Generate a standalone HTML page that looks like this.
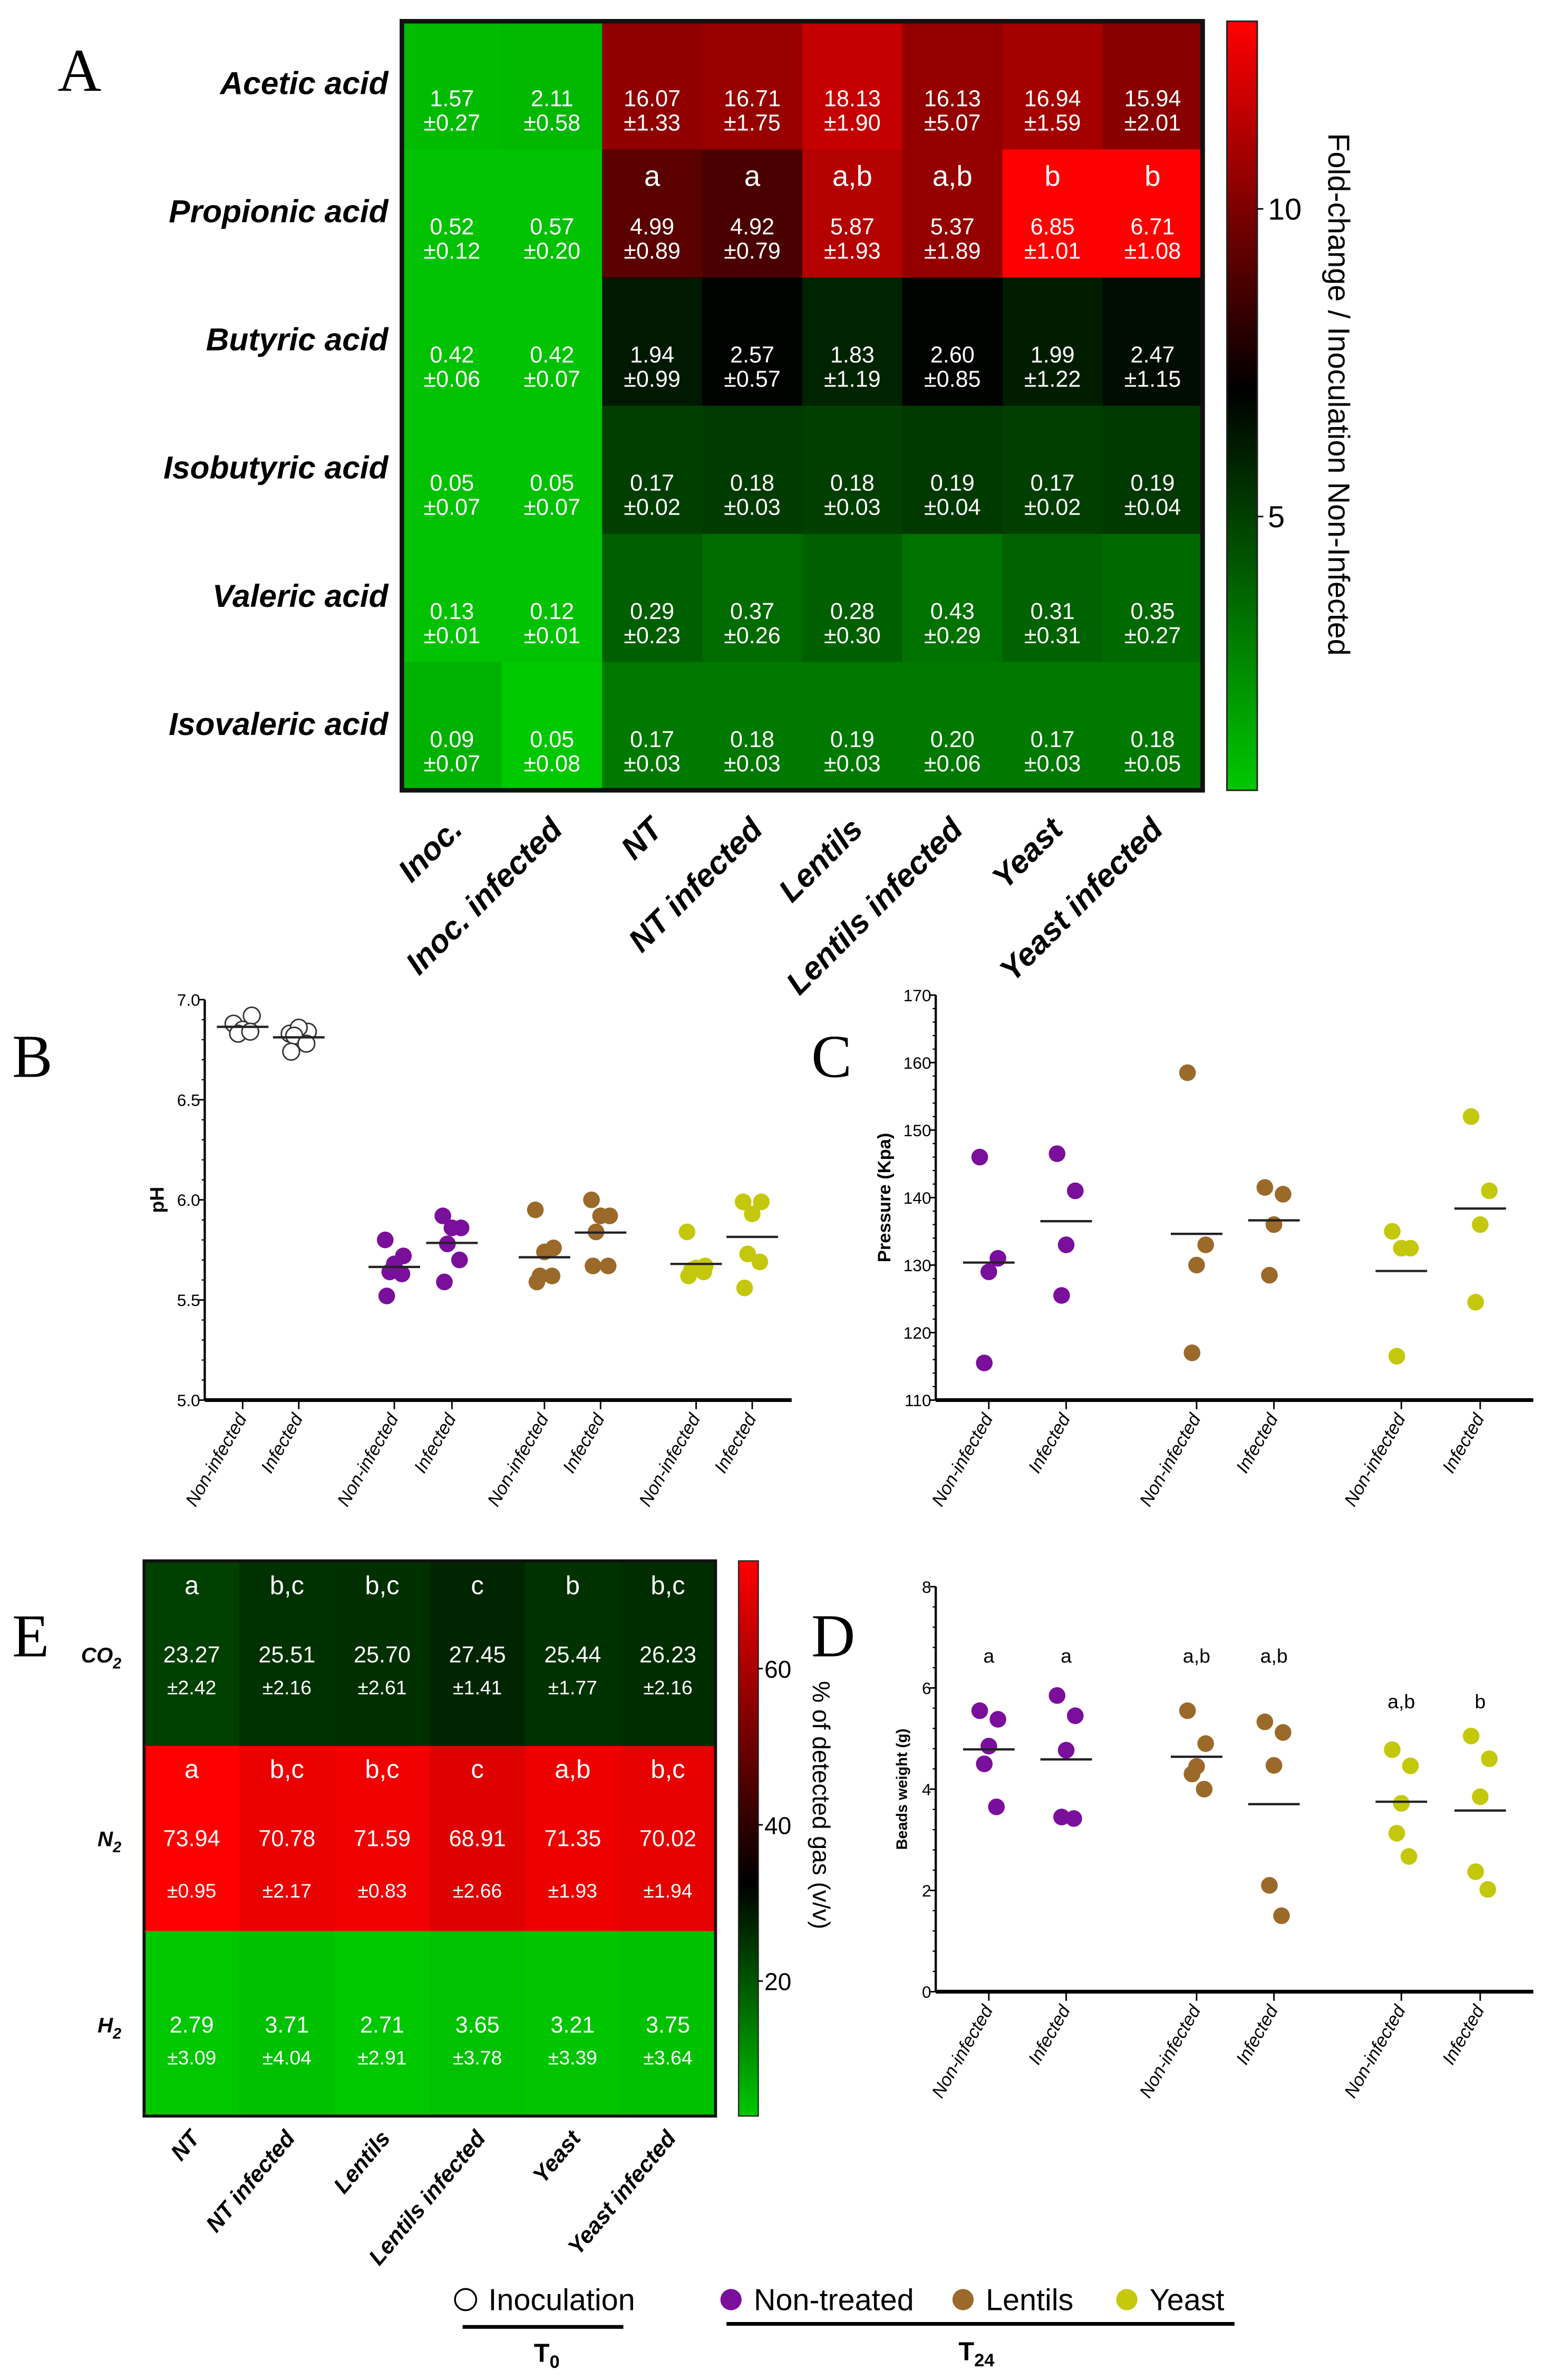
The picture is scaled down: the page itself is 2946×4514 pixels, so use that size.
<!DOCTYPE html>
<html><head><meta charset="utf-8">
<style>
html,body{margin:0;padding:0;background:#fff;}
svg{display:block;}
text{font-family:"Liberation Sans",sans-serif;}
</style></head>
<body>
<svg id="fig" xmlns="http://www.w3.org/2000/svg" width="2946" height="4514" viewBox="0 0 1024 1569" preserveAspectRatio="none">
<defs>
<linearGradient id="gA" x1="0" y1="1" x2="0" y2="0">
<stop offset="0" stop-color="#00c800"/><stop offset="0.52" stop-color="#000"/><stop offset="1" stop-color="#ff0000"/>
</linearGradient>
<linearGradient id="gE" x1="0" y1="1" x2="0" y2="0">
<stop offset="0" stop-color="#00c800"/><stop offset="0.42" stop-color="#000"/><stop offset="1" stop-color="#ff0000"/>
</linearGradient>
</defs>
<g id="root"></g>
<text x="38" y="60" font-size="40" style="font-family:'Liberation Serif',serif">A</text>
<text x="8" y="710" font-size="40" style="font-family:'Liberation Serif',serif">B</text>
<text x="535" y="710" font-size="40" style="font-family:'Liberation Serif',serif">C</text>
<text x="8" y="1092" font-size="40" style="font-family:'Liberation Serif',serif">E</text>
<text x="535" y="1092" font-size="40" style="font-family:'Liberation Serif',serif">D</text>
</svg>
<script>
// ---------- Panel A data ----------
const aRows = ["Acetic acid","Propionic acid","Butyric acid","Isobutyric acid","Valeric acid","Isovaleric acid"];
const aCols = ["Inoc.","Inoc. infected","NT","NT infected","Lentils","Lentils infected","Yeast","Yeast infected"];
const aMeans = [
 ["1.57","2.11","16.07","16.71","18.13","16.13","16.94","15.94"],
 ["0.52","0.57","4.99","4.92","5.87","5.37","6.85","6.71"],
 ["0.42","0.42","1.94","2.57","1.83","2.60","1.99","2.47"],
 ["0.05","0.05","0.17","0.18","0.18","0.19","0.17","0.19"],
 ["0.13","0.12","0.29","0.37","0.28","0.43","0.31","0.35"],
 ["0.09","0.05","0.17","0.18","0.19","0.20","0.17","0.18"]];
const aSds = [
 ["0.27","0.58","1.33","1.75","1.90","5.07","1.59","2.01"],
 ["0.12","0.20","0.89","0.79","1.93","1.89","1.01","1.08"],
 ["0.06","0.07","0.99","0.57","1.19","0.85","1.22","1.15"],
 ["0.07","0.07","0.02","0.03","0.03","0.04","0.02","0.04"],
 ["0.01","0.01","0.23","0.26","0.30","0.29","0.31","0.27"],
 ["0.07","0.08","0.03","0.03","0.03","0.06","0.03","0.05"]];
const aFold = [
 [0.9,1.0,10.3,10.5,11.6,10.4,10.8,10.1],
 [0.7,0.7,9.0,8.6,11.2,10.4,13.0,13.0],
 [0.7,0.7,6.0,6.7,5.7,6.7,5.9,6.4],
 [0.7,0.7,4.8,4.9,4.8,5.0,4.8,5.0],
 [0.7,0.7,3.8,3.4,3.8,3.2,3.7,3.5],
 [1.2,0.5,3.0,3.0,3.0,3.0,3.0,3.0]];
const aLetters = ["a","a","a,b","a,b","b","b"];
const aTicks = [5,10];
// ---------- Panel B data ----------
const bGroups = ["Non-infected","Infected","Non-infected","Infected","Non-infected","Infected","Non-infected","Infected"];
const bValues = [
 [6.88,6.92,6.85,6.83,6.84],
 [6.83,6.84,6.86,6.82,6.78,6.74],
 [5.80,5.72,5.68,5.64,5.63,5.52],
 [5.92,5.86,5.86,5.78,5.70,5.59],
 [5.95,5.76,5.74,5.62,5.62,5.59],
 [6.00,5.92,5.92,5.84,5.67,5.67],
 [5.84,5.67,5.66,5.65,5.64,5.62],
 [5.99,5.99,5.93,5.73,5.69,5.56]];
const bTicks = [5.0,5.5,6.0,6.5,7.0];
// ---------- Panel C data ----------
const cGroups = ["Non-infected","Infected","Non-infected","Infected","Non-infected","Infected"];
const cValues = [
 [146,131,129,115.5],[146.5,141,133,125.5],[158.5,133,130,117],
 [141.5,140.5,136,128.5],[135,132.5,132.5,116.5],[152,141,136,124.5]];
const cTicks = [110,120,130,140,150,160,170];
// ---------- Panel D data ----------
const dValues = [
 [5.55,5.38,4.85,4.5,3.65],[5.85,5.45,4.77,3.45,3.42],[5.55,4.9,4.45,4.3,4.0],
 [5.33,5.12,4.47,2.1,1.5],[4.78,4.46,3.72,3.13,2.67],[5.05,4.6,3.85,2.37,2.02]];
const dLetters = ["a","a","a,b","a,b","a,b","b"];
const dTicks = [0,2,4,6,8];
// ---------- Panel E data ----------
const eRows = ["CO","N","H"];
const eCols = ["NT","NT infected","Lentils","Lentils infected","Yeast","Yeast infected"];
const eMeans = [[23.27,25.51,25.70,27.45,25.44,26.23],[73.94,70.78,71.59,68.91,71.35,70.02],[2.79,3.71,2.71,3.65,3.21,3.75]];
const eSds = [["2.42","2.16","2.61","1.41","1.77","2.16"],["0.95","2.17","0.83","2.66","1.93","1.94"],["3.09","4.04","2.91","3.78","3.39","3.64"]];
const eLetters = [["a","b,c","b,c","c","b","b,c"],["a","b,c","b,c","c","a,b","b,c"]];
const eTicks = [20,40,60];

const NS="http://www.w3.org/2000/svg";
const root=document.getElementById('root');
function mk(tag,attrs,parent,txt){const e=document.createElementNS(NS,tag);for(const k in attrs)e.setAttribute(k,attrs[k]);if(txt!==undefined)e.textContent=txt;(parent||root).appendChild(e);return e;}
function lerp(a,b,t){return Math.round(a+(b-a)*t);}
function cmap(v,lo,mid,hi){
  if(v<=mid){const t=Math.max(0,Math.min(1,(v-lo)/(mid-lo)));return `rgb(0,${lerp(200,0,t)},0)`;}
  const t=Math.max(0,Math.min(1,(v-mid)/(hi-mid)));return `rgb(${lerp(0,255,t)},0,0)`;}
const purple="#7a0f9c",brown="#9b6a2a",yellow="#c4c80c";

// ===== Panel A =====
(function(){
  const g=mk('g',{});
  const x0=265,y0=14,cw=66,rh=84.5;
  aRows.forEach((r,i)=>{
    aCols.forEach((c,j)=>{
      const cell=mk('rect',{x:x0+j*cw,y:y0+i*rh,width:cw+0.5,height:rh+0.5,fill:cmap(aFold[i][j],0.5,6.8,13)},g);
      
      const cx=x0+j*cw+cw/2, cy=y0+i*rh;
      const t1=mk('text',{x:cx,y:cy+56,'text-anchor':'middle','font-size':15,fill:'#fff',style:"font-family:'Liberation Sans Narrow','Liberation Sans',sans-serif"},g,aMeans[i][j]);
      
      const t2=mk('text',{x:cx,y:cy+72,'text-anchor':'middle','font-size':15,fill:'#fff',style:"font-family:'Liberation Sans Narrow','Liberation Sans',sans-serif"},g,'±'+aSds[i][j]);
      
    });
    const rl=mk('text',{x:256,y:y0+i*rh+48,'text-anchor':'end','font-size':21,'font-weight':'bold','font-style':'italic'},g,r);
    
  });
  aLetters.forEach((l,k)=>{
    const t=mk('text',{x:x0+(k+2)*cw+cw/2,y:y0+rh+24,'text-anchor':'middle','font-size':19,fill:'#fff'},g,l);
    
  });
  const b=mk('rect',{x:x0,y:y0,width:cw*8,height:rh*6,fill:'none',stroke:'#111','stroke-width':3},g);
  
  aCols.forEach((c,j)=>{
    const cx=x0+j*cw+cw/2+8;
    const t=mk('text',{x:cx,y:548,'text-anchor':'end','font-size':21,'font-weight':'bold','font-style':'italic',transform:`rotate(-45 ${cx} 548)`},g,c);
    
  });
  const cb=mk('rect',{x:809,y:14,width:20,height:507,fill:'url(#gA)',stroke:'#222','stroke-width':1},g);
  
  const cy=v=>521-(v-0.55)/(13.05-0.55)*507;
  aTicks.forEach(v=>{
    mk('line',{x1:829,x2:833,y1:cy(v),y2:cy(v),stroke:'#000'},g);
    const t=mk('text',{x:836,y:cy(v)+7,'font-size':20},g,String(v));
    
  });
  const tt=mk('text',{x:876,y:260,'text-anchor':'middle','font-size':20,transform:'rotate(90 876 260)'},g,'Fold-change / Inoculation Non-Infected');
  
})();

// ===== scatter helper =====
function scatter(opt){
  const g=mk('g',{});
  const {ax,ay0,ay1,vmin,vmax,xe,xs,vals,colors,ticks,fmt,open}=opt;
  const Y=v=>ay0-(v-vmin)/(vmax-vmin)*(ay0-ay1);
  mk('line',{x1:ax,x2:ax,y1:ay0,y2:ay1,stroke:'#000','stroke-width':1.5},g);
  mk('line',{x1:ax,x2:xe,y1:ay0,y2:ay0,stroke:'#000','stroke-width':2.5},g);
  const step=(ticks[1]-ticks[0])/5;
  for(let v=vmin;v<=vmax+1e-9;v+=step)mk('line',{x1:ax-2,x2:ax,y1:Y(v),y2:Y(v),stroke:'#000','stroke-width':0.8},g);
  ticks.forEach(v=>{
    mk('line',{x1:ax-4,x2:ax,y1:Y(v),y2:Y(v),stroke:'#000'},g);
    const t=mk('text',{x:ax-3,y:Y(v)+4,'text-anchor':'end','font-size':11,style:"font-family:'Liberation Sans Narrow','Liberation Sans',sans-serif"},g,fmt(v));
    
  });
  vals.forEach((arr,i)=>{
    const x=xs[i];
    mk('line',{x1:x,x2:x,y1:ay0,y2:ay0+6,stroke:'#000'},g);
    const lab=mk('text',{x:x+3,y:ay0+12,'text-anchor':'end','font-size':12,'font-style':'italic',transform:`rotate(-60 ${x+3} ${ay0+12})`},g,opt.groups[i]);
    
    const mean=arr.reduce((a,b)=>a+b,0)/arr.length;
    const offs=[-6,6,0,-3,5,-5,3];
    arr.forEach((v,k)=>{
      const c=mk('circle',{cx:x+offs[k%offs.length],cy:Y(v),r:5.5,fill:open&&i<2?'#fff':colors[i],stroke:open&&i<2?'#333':'none','stroke-width':1},g);
      
    });
    const m=mk('line',{x1:x-17,x2:x+17,y1:Y(mean),y2:Y(mean),stroke:'#222','stroke-width':1.5},g);
    
    if(opt.letters){
      const t=mk('text',{x:x,y:Y(opt.letterY[i]),'text-anchor':'middle','font-size':13},g,opt.letters[i]);
      
    }
  });
  const yl=mk('text',{x:opt.ylx,y:(ay0+ay1)/2,'text-anchor':'middle','font-size':opt.ylSize,'font-weight':'bold',transform:`rotate(-90 ${opt.ylx} ${(ay0+ay1)/2})`},g,opt.ylabel);
  
}
const six=[purple,purple,brown,brown,yellow,yellow];
scatter({name:'ph-chart',ax:135,ay0:923,ay1:659,vmin:5,vmax:7,xe:522,xs:[160,197,260,298,359,396,459,496],vals:bValues,colors:['#fff','#fff'].concat(six),ticks:bTicks,fmt:v=>v.toFixed(1),open:true,groups:bGroups,ylx:108,ylabel:'pH',ylSize:13});
scatter({name:'pressure-chart',ax:617,ay0:923,ay1:656,vmin:110,vmax:170,xe:1011,xs:[652,703,789,840,924,976],vals:cValues,colors:six,ticks:cTicks,fmt:v=>String(v),groups:cGroups,ylx:587,ylabel:'Pressure (Kpa)',ylSize:12});
scatter({name:'beads-weight-chart',ax:617,ay0:1313,ay1:1046,vmin:0,vmax:8,xe:1011,xs:[652,703,789,840,924,976],vals:dValues,colors:six,ticks:dTicks,fmt:v=>String(v),groups:cGroups,ylx:598,ylabel:'Beads weight (g)',ylSize:10,letters:dLetters,letterY:[6.5,6.5,6.5,6.5,5.6,5.6]});

// ===== Panel E =====
(function(){
  const g=mk('g',{});
  const x0=95,y0=1029,cw=62.8,rh=122;
  const valY=[[1090,1112],[1211,1246],[1334,1356]];
  eRows.forEach((r,i)=>{
    eCols.forEach((c,j)=>{
      const cell=mk('rect',{x:x0+j*cw,y:y0+i*rh,width:cw+0.5,height:rh+0.5,fill:cmap(eMeans[i][j],2.7,33,74)},g);
      
      const cx=x0+j*cw+cw/2;
      const t1=mk('text',{x:cx,y:valY[i][0]+6,'text-anchor':'middle','font-size':15,fill:'#fff',style:"font-family:'Liberation Sans Narrow','Liberation Sans',sans-serif"},g,eMeans[i][j].toFixed(2));
      
      const t2=mk('text',{x:cx,y:valY[i][1]+5,'text-anchor':'middle','font-size':13,fill:'#fff',style:"font-family:'Liberation Sans Narrow','Liberation Sans',sans-serif"},g,'±'+eSds[i][j]);
      
      if(i<2){
        const l=mk('text',{x:cx,y:(i===0?1044:1165)+7,'text-anchor':'middle','font-size':17,fill:'#fff'},g,eLetters[i][j]);
        
      }
    });
    const rl=mk('text',{x:80,y:valY[i][0]+6,'text-anchor':'end','font-size':14,'font-weight':'bold','font-style':'italic'},g);
    
    mk('tspan',{},rl,r);mk('tspan',{dy:4,'font-size':10},rl,'2');
  });
  const b=mk('rect',{x:x0,y:y0,width:cw*6,height:rh*3,fill:'none',stroke:'#111','stroke-width':2},g);
  
  eCols.forEach((c,j)=>{
    const cx=x0+j*cw+cw/2+6;
    const t=mk('text',{x:cx,y:1410,'text-anchor':'end','font-size':15,'font-weight':'bold','font-style':'italic',transform:`rotate(-50 ${cx} 1410)`},g,c);
    
  });
  const cb=mk('rect',{x:487,y:y0,width:13,height:366,fill:'url(#gE)',stroke:'#222','stroke-width':0.8},g);
  
  const cy=v=>1409-v*5.15;
  eTicks.forEach(v=>{
    mk('line',{x1:500,x2:503,y1:cy(v),y2:cy(v),stroke:'#000'},g);
    const t=mk('text',{x:504,y:cy(v)+6,'font-size':16},g,String(v));
    
  });
  const tt=mk('text',{x:536,y:1190,'text-anchor':'middle','font-size':16,transform:'rotate(90 536 1190)'},g,'% of detected gas (v/v)');
  
})();

// ===== Legend =====
(function(){
  const g=mk('g',{});
  const items=[['Inoculation',307,'#fff'],['Non-treated',482,purple],['Lentils',635,brown],['Yeast',743,yellow]];
  items.forEach(([t,x,c])=>{
    const e=mk('circle',{cx:x,cy:1516,r:7,fill:c,stroke:c==='#fff'?'#000':'none','stroke-width':1.2},g);
    
    const tx=mk('text',{x:x+15,y:1523,'font-size':20},g,t);
    
  });
  mk('line',{x1:305,x2:411,y1:1534,y2:1534,stroke:'#000','stroke-width':2.5},g);
  mk('line',{x1:479,x2:814,y1:1532,y2:1532,stroke:'#000','stroke-width':2.5},g);
  const t0=mk('text',{x:352,y:1557,'font-size':17,'font-weight':'bold'},g);
  
  mk('tspan',{},t0,'T');mk('tspan',{dy:4,'font-size':12},t0,'0');
  const t24=mk('text',{x:632,y:1556,'font-size':17,'font-weight':'bold'},g);
  
  mk('tspan',{},t24,'T');mk('tspan',{dy:4,'font-size':12},t24,'24');
})();
</script>
</body></html>
